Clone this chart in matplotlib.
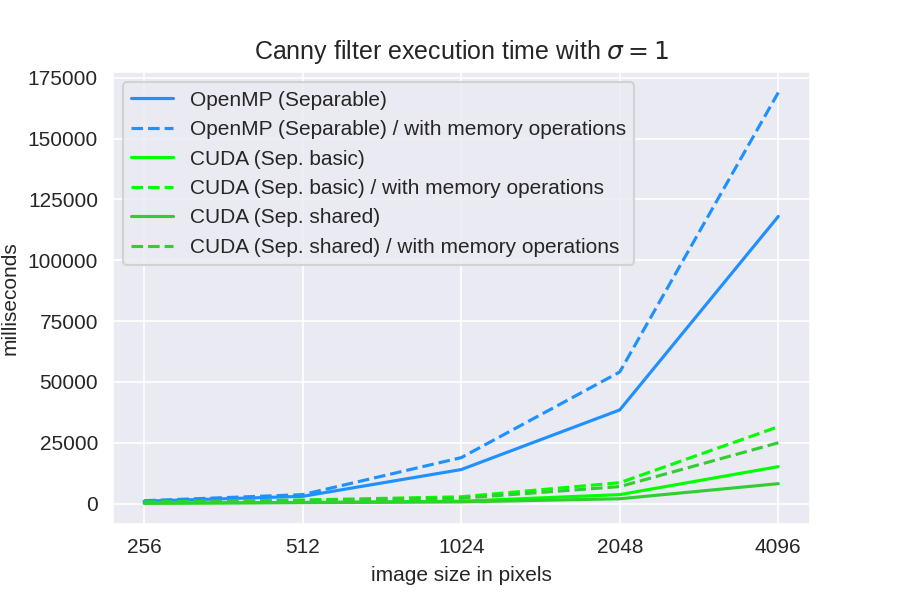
import matplotlib
matplotlib.use('Agg')
import matplotlib.pyplot as plt
import seaborn as sns

sizes = ['256', '512', '1024', '2048', '4096']
openmp = [1000, 3000, 14000, 38500, 118000]
openmp_mem = [1200, 3700, 18900, 54100, 168900]
cuda_basic = [200, 500, 1000, 3700, 15200]
cuda_basic_mem = [600, 1500, 2800, 8600, 31600]
cuda_shared = [150, 400, 700, 2000, 8200]
cuda_shared_mem = [500, 1300, 2200, 7000, 25000]

sns.set_style('darkgrid')
plt.rcParams['font.family'] = ['Liberation Sans', 'DejaVu Sans']

fig, ax = plt.subplots(figsize=(6, 4), dpi=150)
x = range(len(sizes))
ax.plot(x, openmp, color='dodgerblue', label='OpenMP (Separable)')
ax.plot(x, openmp_mem, color='dodgerblue', ls='--', label='OpenMP (Separable) / with memory operations')
ax.plot(x, cuda_basic, color='lime', label='CUDA (Sep. basic)')
ax.plot(x, cuda_basic_mem, color='lime', ls='--', label='CUDA (Sep. basic) / with memory operations')
ax.plot(x, cuda_shared, color='limegreen', label='CUDA (Sep. shared)')
ax.plot(x, cuda_shared_mem, color='limegreen', ls='--', label='CUDA (Sep. shared) / with memory operations')

ax.set_xticks(list(x))
ax.set_xticklabels(sizes)
ax.set_yticks(range(0, 175001, 25000))
ax.tick_params(labelsize=10)
ax.set_xlabel('image size in pixels', fontsize=10)
ax.set_ylabel('milliseconds', fontsize=10)
ax.set_title(r'Canny filter execution time with $\sigma = 1$', fontsize=12)
ax.legend(loc='upper left', fontsize=10)
fig.subplots_adjust(left=0.125, right=0.9, top=0.88, bottom=0.127)
fig.savefig('out.png')
